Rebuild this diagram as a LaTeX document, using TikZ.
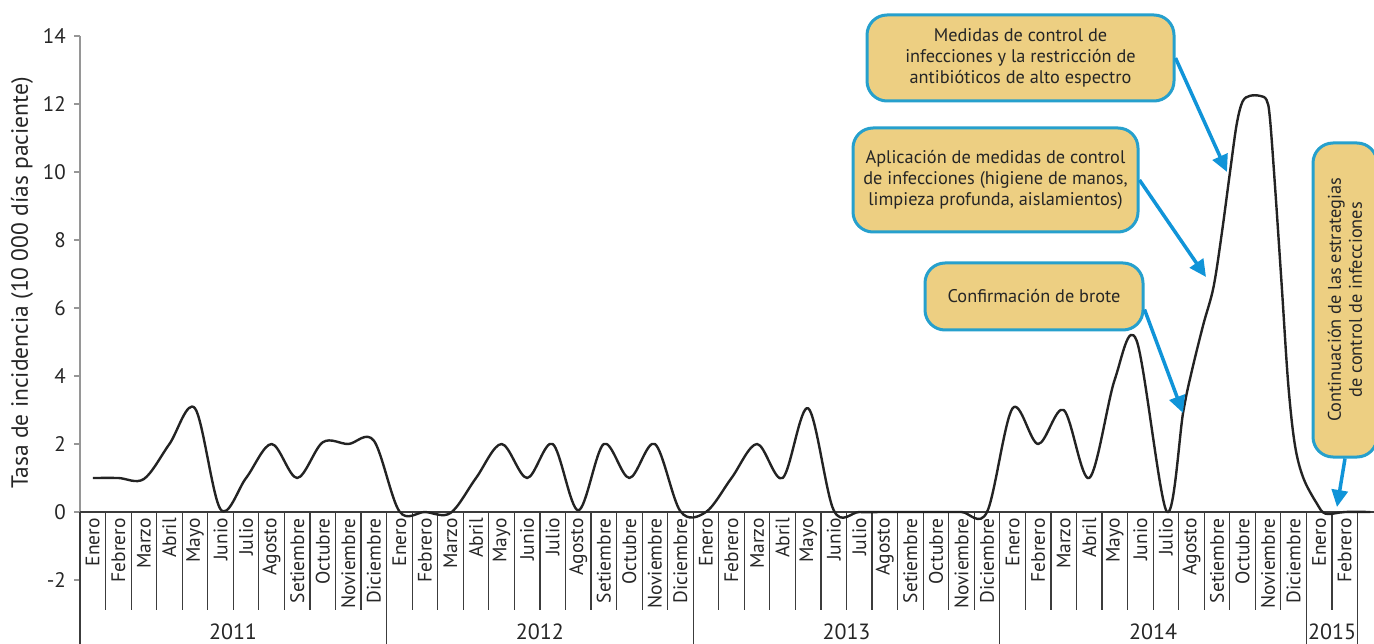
\documentclass[tikz,border=0pt]{standalone}
\usepackage{fontspec}
\setmainfont{PT Sans}
\usetikzlibrary{arrows.meta}
\definecolor{boxfill}{RGB}{237,207,130}
\definecolor{boxline}{RGB}{38,160,205}
\definecolor{arrowblue}{RGB}{16,148,216}
\definecolor{curvecol}{RGB}{35,35,35}
\definecolor{gridcol}{RGB}{60,60,60}
\definecolor{axisgray}{RGB}{150,150,150}
\tikzset{
  callbox/.style={draw=boxline, line width=3pt, fill=boxfill, rounded corners=20pt,
    align=center, inner sep=0pt, text=black!85,
    font=\fontsize{18.3}{21}\selectfont},
  callarrow/.style={draw=arrowblue, line width=3.5pt,
    -{Triangle[length=17pt,width=16pt]}},
  monthlabel/.style={rotate=90, anchor=east, inner sep=0pt, text=black!85,
    font=\fontsize{19.5}{19.5}\selectfont},
  yearlabel/.style={inner sep=0pt, text=black!85, font=\fontsize{22}{22}\selectfont},
  ticklabel/.style={anchor=east, inner sep=0pt, text=black!85, font=\fontsize{21}{21}\selectfont},
  gridline/.style={draw=gridcol, line width=1.2pt},
  curveline/.style={draw=curvecol, line width=2.4pt, line join=round},
}
\begin{document}
\begin{tikzpicture}[x=1pt,y=-1pt]
\useasboundingbox (0,0) rectangle (1374,644);
\clip (0,0) rectangle (1374,644);

% y axis (upper, gray)
\draw[draw=axisgray, line width=1.5pt] (80,36) -- (80,512);
\foreach \v in {-2,0,2,4,6,8,10,12,14}{
  \draw[draw=axisgray, line width=1.5pt] (74,{512-34*\v}) -- (80,{512-34*\v});
  \node[ticklabel] (yt\v) at (66,{512-34*\v}) {\v};
}
\node[rotate=90, inner sep=0pt, text=black!85, font=\fontsize{23.5}{23.5}\selectfont] (ytitle) at (22,283) {Tasa de incidencia (10 000 días paciente)};

% horizontal axis
\draw[gridline] (80,512) -- (1380,512);
% month separators
\foreach \k in {1,...,49}{
  \draw[gridline] ({80+\k*25.55},512) -- ({80+\k*25.55},610);
}
% year separators
\foreach \k in {0,12,24,36,48,50}{
  \draw[gridline] ({80+\k*25.55},512) -- ({80+\k*25.55},644);
}

% month labels
\foreach \name [count=\k from 0] in {Enero,Febrero,Marzo,Abril,Mayo,Junio,Julio,Agosto,Setiembre,Octubre,Noviembre,Diciembre,
  Enero,Febrero,Marzo,Abril,Mayo,Junio,Julio,Agosto,Setiembre,Octubre,Noviembre,Diciembre,
  Enero,Febrero,Marzo,Abril,Mayo,Junio,Julio,Agosto,Setiembre,Octubre,Noviembre,Diciembre,
  Enero,Febrero,Marzo,Abril,Mayo,Junio,Julio,Agosto,Setiembre,Octubre,Noviembre,Diciembre,
  Enero,Febrero}{
  \node[monthlabel] (m\k) at ({80+(\k+0.5)*25.55},518) {\name};
}

% year labels
\node[yearlabel] (y2011) at (233,632) {2011};
\node[yearlabel] (y2012) at (539.9,632) {2012};
\node[yearlabel] (y2013) at (846.5,632) {2013};
\node[yearlabel] (y2014) at (1153.1,632) {2014};
\node[yearlabel] (y2015) at (1332,632) {2015};

% curve
\begin{scope}[shift={(92.775,512)}, x=25.55pt, y=34pt]
\draw[curveline] plot[smooth, tension=0.55] coordinates {
 (0,1) (1,1) (2,0.97) (3,2) (4,3.05) (5,0.08) (6,1) (7,2) (8,1) (9,2.05) (10,2) (11,2.1)
 (12,0.02) (13,0) (14,-0.03) (15,1) (16,2) (17,1) (18,2) (19,0.05) (20,2) (21,1) (22,2) (23,0.02)
 (24,0) (25,1) (26,2) (27,1) (28,3.05) (29,0.05) (30,0) (31,0) (32,0) (33,0) (34,0) (35,0)
 (36,3.05) (37,2) (38,3) (39,1) (40,3.9) (40.85,5.05)
 (42.03,0.02) (42.68,2.95) (43.01,4.13) (43.46,5.5) (43.86,6.6) (44.18,8.15) (44.51,10.0)
 (44.77,11.4) (45.0,12.07) (45.29,12.24) (45.68,12.24) (45.94,12.12) (46.07,11.6) (46.27,9.6)
 (46.53,6.7) (46.79,3.75) (47.05,1.97) (47.38,1.0) (47.9,0.26) (48.25,-0.05) (49,0) (50,0)
};
\end{scope}

% callouts
\node[callbox, minimum width=307pt, minimum height=86pt] (b1) at (1020.5,58)
  {Medidas de control de\\ infecciones y la restricción de\\ antibióticos de alto espectro};
\node[callbox, minimum width=285pt, minimum height=104pt] (b2) at (995.5,180)
  {Aplicación de medidas de control\\ de infecciones (higiene de manos,\\ limpieza profunda, aislamientos)};
\node[callbox, minimum width=218pt, minimum height=67pt] (b3) at (1034,296.5)
  {Confirmación de brote};
\node[callbox, rotate=90, minimum width=314pt, minimum height=64pt] (b4) at (1345,300)
  {Continuación de las estrategias\\ de control de infecciones};

\coordinate (t1) at (1227,172);
\coordinate (t2) at (1206,277);
\coordinate (t3) at (1183,413);
\coordinate (t4) at (1337,507);

\draw[callarrow] (b1.east) -- (t1);
\draw[callarrow] (b2.east) -- (t2);
\draw[callarrow] ([yshift=-13pt]b3.east) -- (t3);
\draw[callarrow] (b4.west) -- (t4);
\end{tikzpicture}
\end{document}
